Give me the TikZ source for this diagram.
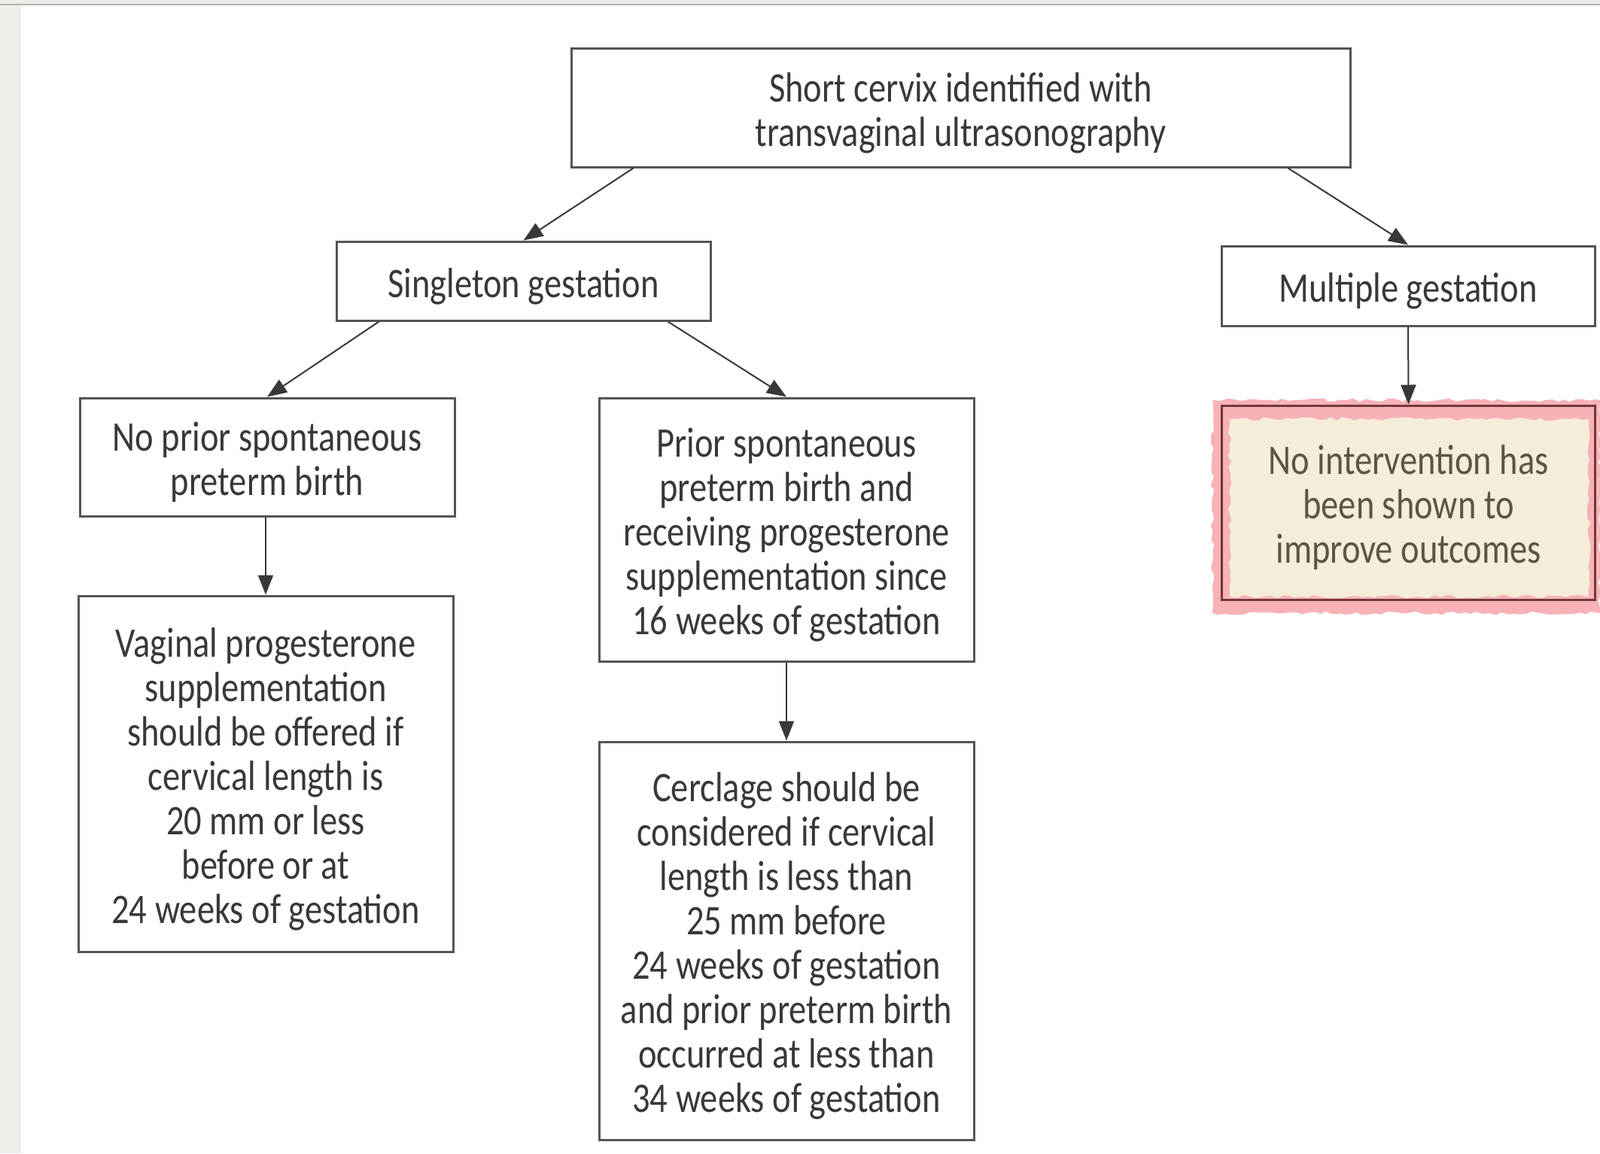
\documentclass[tikz,border=0pt]{standalone}
\usepackage{fontspec}
\setmainfont{Carlito}[FakeStretch=0.83]
\usetikzlibrary{arrows.meta,decorations.pathmorphing}

\newlength{\du}
\setlength{\du}{0.25pt}

\definecolor{boxgray}{rgb}{0.33,0.33,0.33}
\definecolor{textgray}{rgb}{0.22,0.22,0.22}
\definecolor{pagebeige}{rgb}{0.94,0.93,0.91}
\definecolor{rulegray}{rgb}{0.72,0.71,0.69}
\definecolor{markpink}{rgb}{0.97,0.70,0.72}
\definecolor{notecream}{rgb}{0.96,0.93,0.85}
\definecolor{noteedge}{rgb}{0.45,0.22,0.22}
\definecolor{notetext}{rgb}{0.36,0.33,0.27}

\tikzset{
  box/.style={draw=boxgray, line width=3\du, fill=white, align=center,
    inner sep=0pt, text=textgray, font=\fontsize{14}{14.75}\selectfont},
  % pushes the text block a little down inside its frame
  textrows/.style={execute at begin node={\rule{0pt}{\dimexpr14.75pt*(#1-1)+13.2pt\relax}}},
  arrow/.style={draw=textgray, line width=2\du,
    -{Triangle[length=6.5pt,width=5pt]}},
  rough/.style={decorate, decoration={random steps, segment length=2pt, amplitude=0.6pt}},
}

\begin{document}
\begin{tikzpicture}
\pgftransformyscale{-1.000000}
% page
\useasboundingbox (0,0) rectangle (2126\du,1533\du);
\fill[white] (0,0) rectangle (2126\du,1533\du);
\fill[pagebeige] (0,0) rectangle (28\du,1533\du);
\fill[pagebeige] (0,0) rectangle (2126\du,5\du);
\draw[rulegray, line width=2.5\du] (0,6\du) -- (2126\du,6\du);

% highlight behind the last box
\fill[markpink, rough] (1611\du,532\du) rectangle (2126\du,815\du);
\fill[notecream, rough] (1634\du,557\du) rectangle (2111\du,793\du);

% boxes
\node[box, textrows=2, minimum width=1035\du, minimum height=158\du] (cervix) at (1276.5\du,143\du)
  {Short cervix identified with\\transvaginal ultrasonography};
\node[box, textrows=1, minimum width=497\du, minimum height=105\du] (single) at (695.5\du,373.5\du)
  {Singleton gestation};
\node[box, textrows=1, minimum width=496\du, minimum height=106\du] (multi) at (1871\du,380\du)
  {Multiple gestation};
\node[box, textrows=2, minimum width=498\du, minimum height=157\du] (noprior) at (355\du,607.5\du)
  {No prior spontaneous\\preterm birth};
\node[box, textrows=5, minimum width=498\du, minimum height=350\du] (prior) at (1045\du,704\du)
  {Prior spontaneous\\preterm birth and\\receiving progesterone\\supplementation since\\16 weeks of gestation};
\node[box, textrows=7, minimum width=498\du, minimum height=473\du] (vaginal) at (353\du,1028.5\du)
  {Vaginal progesterone\\supplementation\\should be offered if\\cervical length is\\20 mm or less\\before or at\\24 weeks of gestation};
\node[box, textrows=8, minimum width=498\du, minimum height=529\du] (cerclage) at (1045\du,1250.5\du)
  {Cerclage should be\\considered if cervical\\length is less than\\25 mm before\\24 weeks of gestation\\and prior preterm birth\\occurred at less than\\34 weeks of gestation};
\node[box, textrows=3, fill=none, draw=noteedge, text=notetext, minimum width=496\du, minimum height=258\du] (nointerv) at (1871.5\du,668\du)
  {No intervention has\\been shown to\\improve outcomes};

% connectors
\draw[arrow] ([xshift=-435\du]cervix.south) -- (single.north);
\draw[arrow] ([xshift=435\du]cervix.south) -- (multi.north);
\draw[arrow] ([xshift=-192\du]single.south) -- (noprior.north);
\draw[arrow] ([xshift=192\du]single.south) -- (prior.north);
\draw[arrow] (noprior.south -| vaginal.north) -- (vaginal.north);
\draw[arrow] (prior.south) -- (cerclage.north);
\draw[arrow] (multi.south) -- (nointerv.north);
\end{tikzpicture}
\end{document}
